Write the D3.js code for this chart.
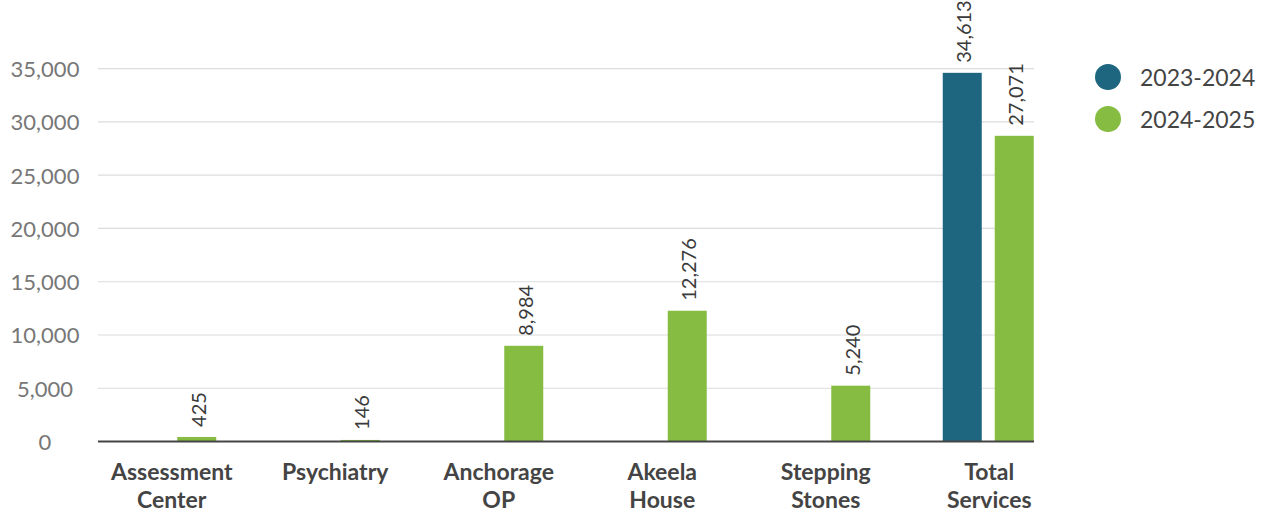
<!DOCTYPE html>
<html>
<head>
<meta charset="utf-8">
<script src="https://cdn.jsdelivr.net/npm/d3@7"></script>
<style>
  body { margin: 0; background: #fff; }
  text { font-family: "Lato", "Open Sans", sans-serif; }
</style>
</head>
<body>
<div id="plot"></div>
<script>
// Data
var categories = [["Assessment", "Center"], ["Psychiatry"], ["Anchorage", "OP"], ["Akeela", "House"], ["Stepping", "Stones"], ["Total", "Services"]];
var seriesNames = ["2023-2024", "2024-2025"];
var values2324 = [0, 0, 0, 0, 0, 34613];
var values2425 = [425, 146, 8984, 12276, 5240, 28700];   // bar heights as drawn
var labels2324 = ["", "", "", "", "", "34,613"];
var labels2425 = ["425", "146", "8,984", "12,276", "5,240", "27,071"];
var yTicks = [0, 5000, 10000, 15000, 20000, 25000, 30000, 35000];
var colors = ["#1e6680", "#86bc42"];

// Dimensions
var W = 1261, H = 513;
var plotLeft = 98, plotRight = 1034;

var svg = d3.select("#plot")
    .append("svg")
        .attr("width", W)
        .attr("height", H);

var keys = categories.map(function(d) { return d.join(" "); });

// X scale (groups)
var x = d3.scaleBand()
    .domain(keys)
    .range([90, 1071])
    .padding(0);

// Inner scale (series within group)
var xInner = d3.scaleBand()
    .domain(seriesNames)
    .range([x.bandwidth() / 2 - 46.5, x.bandwidth() / 2 + 44.5])
    .paddingInner(0.25)
    .paddingOuter(0);

// Y scale
var y = d3.scaleLinear()
    .domain([0, 35000])
    .range([441.5, 68.7]);

// Gridlines
svg.append("g")
    .selectAll("line")
    .data(yTicks.slice(1))
    .enter().append("line")
        .attr("x1", plotLeft)
        .attr("x2", plotRight)
        .attr("y1", function(d) { return y(d); })
        .attr("y2", function(d) { return y(d); })
        .attr("stroke", "#dcdcdc")
        .attr("stroke-width", 1.2);

// Y tick labels
svg.append("g")
    .selectAll("text")
    .data(yTicks)
    .enter().append("text")
        .attr("x", 45)
        .attr("y", function(d) { return y(d); })
        .attr("text-anchor", "middle")
        .attr("dominant-baseline", "central")
        .style("font-size", "22px")
        .style("fill", "#777")
        .text(function(d) { return d3.format(",")(d); });

// Bars
var rows = keys.map(function(k, i) {
    return {
        key: k,
        vals: [
            {s: seriesNames[0], v: values2324[i], label: labels2324[i], c: colors[0]},
            {s: seriesNames[1], v: values2425[i], label: labels2425[i], c: colors[1]}
        ]
    };
});

var groups = svg.append("g")
    .selectAll("g")
    .data(rows)
    .enter().append("g")
        .attr("transform", function(d) { return "translate(" + x(d.key) + ",0)"; });

groups.selectAll("rect")
    .data(function(d) { return d.vals.filter(function(v) { return v.v > 0; }); })
    .enter().append("rect")
        .attr("x", function(d) { return xInner(d.s); })
        .attr("y", function(d) { return y(d.v); })
        .attr("width", xInner.bandwidth())
        .attr("height", function(d) { return y(0) - y(d.v); })
        .attr("fill", function(d) { return d.c; });

// Value labels (rotated)
groups.selectAll("text.val")
    .data(function(d) { return d.vals.filter(function(v) { return v.label !== ""; }); })
    .enter().append("text")
        .attr("class", "val")
        .attr("transform", function(d) {
            return "translate(" + (xInner(d.s) + xInner.bandwidth() / 2 + 1) + "," + (y(d.v) - 10) + ") rotate(-90)";
        })
        .attr("dominant-baseline", "central")
        .style("font-size", "20px")
        .style("fill", "#3a3a3a")
        .text(function(d) { return d.label; });

// Baseline
svg.append("line")
    .attr("x1", plotLeft)
    .attr("x2", plotRight)
    .attr("y1", y(0))
    .attr("y2", y(0))
    .attr("stroke", "#444")
    .attr("stroke-width", 2);

// Category labels
var catLabels = svg.append("g")
    .selectAll("text")
    .data(categories)
    .enter().append("text")
        .attr("x", function(d, i) { return x(keys[i]) + x.bandwidth() / 2; })
        .attr("y", 480)
        .attr("text-anchor", "middle")
        .style("font-size", "23px")
        .style("font-weight", "bold")
        .style("fill", "#444");

catLabels.selectAll("tspan")
    .data(function(d) { return d; })
    .enter().append("tspan")
        .attr("x", function() { return d3.select(this.parentNode).attr("x"); })
        .attr("dy", function(d, i) { return i === 0 ? 0 : 28; })
        .text(function(d) { return d; });

// Legend
var legend = svg.append("g")
    .selectAll("g")
    .data(seriesNames)
    .enter().append("g")
        .attr("transform", function(d, i) { return "translate(1108," + (77 + i * 42) + ")"; });

legend.append("circle")
    .attr("r", 13)
    .attr("fill", function(d, i) { return colors[i]; });

legend.append("text")
    .attr("x", 32)
    .attr("dominant-baseline", "central")
    .style("font-size", "23px")
    .style("fill", "#444")
    .text(function(d) { return d; });
</script>
</body>
</html>
